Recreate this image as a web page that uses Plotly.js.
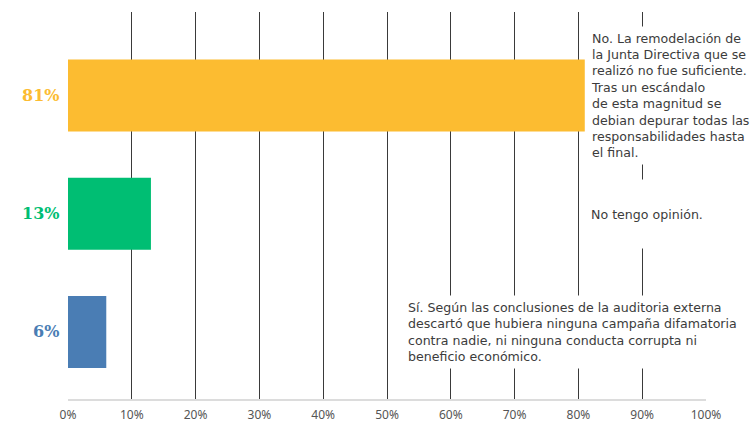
<!DOCTYPE html>
<html>
<head>
<meta charset="utf-8">
<script src="https://cdn.plot.ly/plotly-3.0.1.min.js"></script>
<style>
  html, body { margin: 0; padding: 0; background: #fff; }
  #chart { width: 754px; height: 422px; }
</style>
</head>
<body>
<div id="chart"></div>
<script>
// Survey answers, top to bottom
const answers = [
  "No. La remodelación de<br>la Junta Directiva que se<br>realizó no fue suficiente.<br>Tras un escándalo<br>de esta magnitud se<br>debian depurar todas las<br>responsabilidades hasta<br>el final.",
  "No tengo opinión.",
  "Sí. Según las conclusiones de la auditoria externa<br>descartó que hubiera ninguna campaña difamatoria<br>contra nadie, ni ninguna conducta corrupta ni<br>beneficio económico."
];
const shares = [81, 13, 6];
const barColors = ["#FCBC31", "#00BE73", "#4A7DB4"];
const tickValues = [0, 10, 20, 30, 40, 50, 60, 70, 80, 90, 100];
const tickLabels = ["0%", "10%", "20%", "30%", "40%", "50%", "60%", "70%", "80%", "90%", "100%"];

// layout of the answer text boxes (left edge in axis units, box height in px)
const boxLeft = [81.2, 81.2, 52.5];
const boxHeight = [129, 60, 64];

const cats = answers.map((_, i) => "a" + i);

const trace = {
  type: "bar",
  orientation: "h",
  x: shares,
  y: cats,
  width: 0.61,
  marker: { color: barColors, line: { width: 0 } },
  hoverinfo: "skip"
};

const annotations = [];
shares.forEach((v, i) => {
  // value label left of the bar
  annotations.push({
    xref: "paper", yref: "y",
    x: 0, y: cats[i],
    xanchor: "right", yanchor: "middle",
    xshift: -7,
    text: v + "%",
    showarrow: false,
    font: { family: "DejaVu Serif", size: 16, weight: "bold", color: barColors[i] }
  });
  // answer text on a white box that interrupts the grid
  annotations.push({
    xref: "x", yref: "y",
    x: boxLeft[i], y: cats[i],
    xanchor: "left", yanchor: "middle",
    text: answers[i],
    align: "left",
    valign: "middle",
    height: boxHeight[i],
    width: 400,
    borderpad: 4,
    bgcolor: "#ffffff",
    showarrow: false,
    font: { family: "DejaVu Sans", size: 12.6, color: "#3c3c3c" }
  });
});

const layout = {
  width: 754,
  height: 422,
  margin: { l: 68, r: 48, t: 12, b: 23 },
  paper_bgcolor: "#ffffff",
  plot_bgcolor: "#ffffff",
  showlegend: false,
  xaxis: {
    range: [0, 100],
    tickvals: tickValues,
    ticktext: tickLabels,
    showgrid: true,
    gridcolor: "#3a3a3a",
    gridwidth: 1,
    zeroline: false,
    showline: true,
    linecolor: "#dcdcdc",
    linewidth: 2,
    ticks: "",
    ticklabelstandoff: 4,
    tickfont: { family: "Noto Sans", size: 12, color: "#555555" },
    fixedrange: true
  },
  yaxis: {
    type: "category",
    categoryarray: cats,
    range: [2.567, -0.706],
    showgrid: false,
    zeroline: false,
    showline: false,
    showticklabels: false,
    ticks: "",
    fixedrange: true
  },
  annotations: annotations
};

Plotly.newPlot("chart", [trace], layout, { displayModeBar: false, staticPlot: true });
</script>
</body>
</html>
